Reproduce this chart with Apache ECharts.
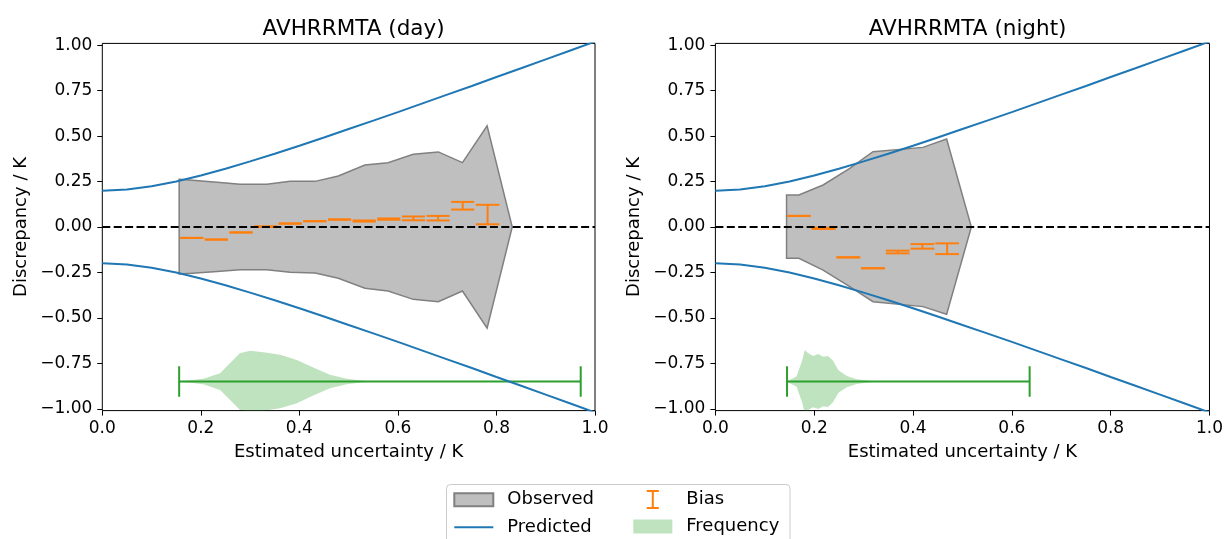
<!DOCTYPE html>
<html>
<head>
<meta charset="utf-8">
<script src="https://cdn.jsdelivr.net/npm/echarts@6/dist/echarts.min.js"></script>
<style>
  html, body { margin: 0; padding: 0; background: #fff; }
  #chart { width: 1226px; height: 539px; }
</style>
</head>
<body>
<div id="chart"></div>
<script>
// ---- data ----
const yTicks = [-1, -0.75, -0.5, -0.25, 0, 0.25, 0.5, 0.75, 1];

// predicted envelope (same on both panels)
const predX = [0, 0.05, 0.1, 0.15, 0.2, 0.25, 0.3, 0.35, 0.4, 0.45, 0.5, 0.55, 0.6, 0.65, 0.7, 0.75, 0.8, 0.85, 0.9, 0.95, 1.0];
const predUpper = [0.200, 0.206, 0.224, 0.250, 0.283, 0.320, 0.361, 0.403, 0.447, 0.492, 0.539, 0.585, 0.632, 0.680, 0.728, 0.776, 0.825, 0.873, 0.922, 0.971, 1.020];
const predLower = [-0.200, -0.206, -0.224, -0.250, -0.283, -0.320, -0.361, -0.403, -0.447, -0.492, -0.539, -0.585, -0.632, -0.680, -0.728, -0.776, -0.825, -0.873, -0.922, -0.971, -1.020];

// observed spread (day)
const dayObsX = [0.156, 0.183, 0.233, 0.280, 0.334, 0.381, 0.432, 0.479, 0.533, 0.580, 0.631, 0.682, 0.731, 0.781, 0.832];
const dayObsUpper = [0.262, 0.257, 0.246, 0.235, 0.235, 0.251, 0.251, 0.281, 0.341, 0.354, 0.400, 0.413, 0.354, 0.557, 0.0];
const dayObsLower = [-0.259, -0.255, -0.245, -0.235, -0.235, -0.249, -0.253, -0.282, -0.337, -0.352, -0.398, -0.411, -0.352, -0.557, 0.0];

// bias per bin (day)
const dayBinLeft = [0.158, 0.208, 0.258, 0.308, 0.358, 0.408, 0.458, 0.508, 0.558, 0.608, 0.658, 0.708, 0.758];
const dayBinRight = [0.205, 0.255, 0.305, 0.355, 0.405, 0.455, 0.505, 0.555, 0.605, 0.655, 0.705, 0.755, 0.806];
const dayBiasLo = [-0.060, -0.069, -0.030, 0.000, 0.018, 0.031, 0.040, 0.030, 0.040, 0.037, 0.036, 0.096, 0.015];
const dayBiasHi = [-0.060, -0.069, -0.030, 0.004, 0.020, 0.033, 0.042, 0.036, 0.047, 0.058, 0.061, 0.138, 0.122];

// frequency violin (day)
const dayFreqX = [0.156, 0.178, 0.205, 0.239, 0.259, 0.279, 0.300, 0.327, 0.361, 0.395, 0.428, 0.462, 0.496, 0.530, 0.557, 0.971];
const dayFreqHalf = [0.002, 0.007, 0.015, 0.046, 0.101, 0.156, 0.169, 0.161, 0.147, 0.119, 0.077, 0.037, 0.015, 0.004, 0.0, 0.0];
const dayFreqRange = [0.156, 0.971];

// observed spread (night)
const nightObsX = [0.144, 0.169, 0.218, 0.272, 0.319, 0.420, 0.468, 0.518];
const nightObsUpper = [0.176, 0.176, 0.231, 0.323, 0.414, 0.438, 0.484, 0.0];
const nightObsLower = [-0.172, -0.172, -0.237, -0.328, -0.411, -0.438, -0.480, 0.0];

// bias per bin (night)
const nightBinLeft = [0.145, 0.195, 0.245, 0.295, 0.345, 0.395, 0.445];
const nightBinRight = [0.193, 0.243, 0.293, 0.343, 0.393, 0.443, 0.493];
const nightBiasLo = [0.061, -0.011, -0.167, -0.227, -0.145, -0.119, -0.149];
const nightBiasHi = [0.061, -0.004, -0.167, -0.227, -0.130, -0.094, -0.090];

// frequency violin (night)
const nightFreqX = [0.145, 0.164, 0.175, 0.181, 0.188, 0.198, 0.208, 0.218, 0.228, 0.238, 0.249, 0.266, 0.286, 0.313, 0.333, 0.636];
const nightFreqHalf = [0.002, 0.028, 0.110, 0.173, 0.156, 0.141, 0.151, 0.136, 0.140, 0.114, 0.062, 0.031, 0.013, 0.004, 0.0, 0.0];
const nightFreqRange = [0.145, 0.636];

const freqCentre = -0.85;
const freqCap = 0.084;

// ---- styles ----
const FONT = "DejaVu Sans";
const BLUE = "#1f77b4";
const ORANGE = "#ff7f0e";
const GREEN = "#2ca02c";

function fmtY(v) {
  let s = Math.abs(v).toFixed(2);
  return v < 0 ? "\u2212" + s : s;
}

function pairs(xs, ys) {
  return xs.map((x, i) => [x, ys[i]]);
}

function clipOf(params) {
  const cs = params.coordSys;
  return { type: "rect", shape: { x: cs.x, y: cs.y, width: cs.width, height: cs.height } };
}

// polygon between upper and lower outline
function polyRender(xs, up, low, style) {
  return function (params, api) {
    const pts = [];
    for (let i = 0; i < xs.length; i++) pts.push(api.coord([xs[i], up[i]]));
    for (let i = xs.length - 1; i >= 0; i--) pts.push(api.coord([xs[i], low[i]]));
    return {
      type: "group",
      clipPath: clipOf(params),
      children: [{ type: "polygon", shape: { points: pts }, style: style }],
    };
  };
}

// violin = filled shape + extent line with caps
function violinRender(xs, half, range) {
  return function (params, api) {
    const pts = [];
    for (let i = 0; i < xs.length; i++) pts.push(api.coord([xs[i], freqCentre + half[i]]));
    for (let i = xs.length - 1; i >= 0; i--) pts.push(api.coord([xs[i], freqCentre - half[i]]));
    const a = api.coord([range[0], freqCentre]);
    const b = api.coord([range[1], freqCentre]);
    const aT = api.coord([range[0], freqCentre + freqCap]);
    const aB = api.coord([range[0], freqCentre - freqCap]);
    const bT = api.coord([range[1], freqCentre + freqCap]);
    const bB = api.coord([range[1], freqCentre - freqCap]);
    const ls = { stroke: GREEN, lineWidth: 2, fill: null };
    return {
      type: "group",
      clipPath: clipOf(params),
      children: [
        { type: "polygon", shape: { points: pts }, style: { fill: "rgba(44,160,44,0.3)", stroke: null } },
        { type: "line", shape: { x1: a[0], y1: a[1], x2: b[0], y2: b[1] }, style: ls },
        { type: "line", shape: { x1: aT[0], y1: aT[1], x2: aB[0], y2: aB[1] }, style: ls },
        { type: "line", shape: { x1: bT[0], y1: bT[1], x2: bB[0], y2: bB[1] }, style: ls },
      ],
    };
  };
}

// bias error bar: caps over the bin width, stem at bin centre
function biasRender(params, api) {
  const l = api.value(0), r = api.value(1), lo = api.value(2), hi = api.value(3);
  const m = (l + r) / 2;
  const p1 = api.coord([l, lo]), p2 = api.coord([r, lo]);
  const p3 = api.coord([l, hi]), p4 = api.coord([r, hi]);
  const s1 = api.coord([m, lo]), s2 = api.coord([m, hi]);
  const st = { stroke: ORANGE, lineWidth: 2, fill: null };
  return {
    type: "group",
    children: [
      { type: "line", shape: { x1: p1[0], y1: p1[1], x2: p2[0], y2: p2[1] }, style: st },
      { type: "line", shape: { x1: p3[0], y1: p3[1], x2: p4[0], y2: p4[1] }, style: st },
      { type: "line", shape: { x1: s1[0], y1: s1[1], x2: s2[0], y2: s2[1] }, style: st },
    ],
  };
}

function biasData(L, R, lo, hi) {
  return L.map((l, i) => [l, R[i], lo[i], hi[i]]);
}

function panelSeries(idx, obsX, obsUp, obsLow, binL, binR, bLo, bHi, fX, fHalf, fRange) {
  return [
    {
      name: "Observed",
      type: "custom",
      xAxisIndex: idx, yAxisIndex: idx,
      itemStyle: { color: "#bfbfbf", borderColor: "#808080", borderWidth: 1 },
      renderItem: polyRender(obsX, obsUp, obsLow, { fill: "#bfbfbf", stroke: "#808080", lineWidth: 1.5 }),
      data: [[0, 0]],
      silent: true,
    },
    {
      name: "Predicted", type: "line", xAxisIndex: idx, yAxisIndex: idx,
      data: pairs(predX, predUpper), symbol: "none", color: BLUE,
      lineStyle: { color: BLUE, width: 2 },
    },
    {
      name: "Predicted", type: "line", xAxisIndex: idx, yAxisIndex: idx,
      data: pairs(predX, predLower), symbol: "none", color: BLUE,
      lineStyle: { color: BLUE, width: 2 },
    },
    {
      name: "zero", type: "line", xAxisIndex: idx, yAxisIndex: idx,
      data: [[0, 0], [1, 0]], symbol: "none",
      lineStyle: { color: "#000", width: 2, type: [8, 3.4] },
    },
    {
      name: "Bias",
      type: "custom",
      xAxisIndex: idx, yAxisIndex: idx,
      itemStyle: { color: ORANGE },
      renderItem: biasRender,
      encode: { x: [0, 1], y: [2, 3] },
      data: biasData(binL, binR, bLo, bHi),
    },
    {
      name: "Frequency",
      type: "custom",
      xAxisIndex: idx, yAxisIndex: idx,
      itemStyle: { color: "rgba(44,160,44,0.3)" },
      renderItem: violinRender(fX, fHalf, fRange),
      data: [[0, 0]],
      silent: true,
    },
  ];
}

function xAxisOf(idx) {
  return {
    type: "value", gridIndex: idx, min: 0, max: 1, interval: 0.2,
    axisLine: { show: false, onZero: false },
    axisTick: { show: true, length: 5, lineStyle: { color: "#000", width: 1 } },
    axisLabel: { fontFamily: FONT, fontSize: 17, color: "#000", margin: 9, formatter: (v) => v.toFixed(1) },
    splitLine: { show: false },
    name: "Estimated uncertainty / K",
    nameLocation: "middle", nameGap: 33,
    nameTextStyle: { fontFamily: FONT, fontSize: 18, color: "#000" },
  };
}

function yAxisOf(idx) {
  return {
    type: "value", gridIndex: idx, min: -1.01, max: 1.01,
    axisLine: { show: false, onZero: false },
    axisTick: { show: true, length: 5, customValues: yTicks, lineStyle: { color: "#000", width: 1 } },
    axisLabel: { fontFamily: FONT, fontSize: 17, color: "#000", margin: 10, customValues: yTicks, formatter: fmtY },
    splitLine: { show: false },
    name: "Discrepancy / K",
    nameLocation: "middle", nameGap: 72, nameRotate: 90,
    nameTextStyle: { fontFamily: FONT, fontSize: 18, color: "#000" },
  };
}

const chart = echarts.init(document.getElementById("chart"));

const option = {
  animation: false,
  backgroundColor: "#fff",
  title: [
    { text: "AVHRRMTA (day)", left: 348.6, top: 13, textAlign: "center",
      textStyle: { fontFamily: FONT, fontSize: 21.5, fontWeight: "normal", color: "#000" } },
    { text: "AVHRRMTA (night)", left: 962.6, top: 13, textAlign: "center",
      textStyle: { fontFamily: FONT, fontSize: 21.5, fontWeight: "normal", color: "#000" } },
  ],
  grid: [
    { left: 102.3, top: 43.4, width: 492.7, height: 367.2, show: true, borderColor: "#000", borderWidth: 1, backgroundColor: "transparent" },
    { left: 715.4, top: 43.4, width: 494.5, height: 367.2, show: true, borderColor: "#000", borderWidth: 1, backgroundColor: "transparent" },
  ],
  xAxis: [xAxisOf(0), xAxisOf(1)],
  yAxis: [yAxisOf(0), yAxisOf(1)],
  graphic: [
    {
      type: "rect", z: -1, silent: true,
      shape: { x: 446.5, y: 484.5, width: 343.5, height: 70, r: 4 },
      style: { fill: "rgba(255,255,255,0.8)", stroke: "#cccccc", lineWidth: 1 },
    },
  ],
  legend: [
    {
      data: [
        { name: "Observed", icon: "rect" },
        { name: "Predicted", icon: "path://M0,0H39V2H0Z" },
      ],
      orient: "vertical", left: 453.3, top: 490.7,
      itemWidth: 39, itemHeight: 13, itemGap: 9.5, padding: 0,
      selectedMode: false,
      textStyle: { fontFamily: FONT, fontSize: 18, color: "#000", padding: [0, 0, 0, 9] },
    },
    {
      data: [
        { name: "Bias", icon: "path://M0,0H12V2H7V17H12V19H0V17H5V2H0Z" },
        { name: "Frequency", icon: "path://M0,0H39V14H0Z" },
      ],
      orient: "vertical", left: 633.3, top: 490,
      itemWidth: 39, itemHeight: 19, itemGap: 8.5, padding: 0,
      selectedMode: false,
      textStyle: { fontFamily: FONT, fontSize: 18, color: "#000", padding: [0, 0, 0, 9] },
    },
  ],
  series: []
    .concat(panelSeries(0, dayObsX, dayObsUpper, dayObsLower, dayBinLeft, dayBinRight, dayBiasLo, dayBiasHi, dayFreqX, dayFreqHalf, dayFreqRange))
    .concat(panelSeries(1, nightObsX, nightObsUpper, nightObsLower, nightBinLeft, nightBinRight, nightBiasLo, nightBiasHi, nightFreqX, nightFreqHalf, nightFreqRange)),
};

chart.setOption(option);
</script>
</body>
</html>
